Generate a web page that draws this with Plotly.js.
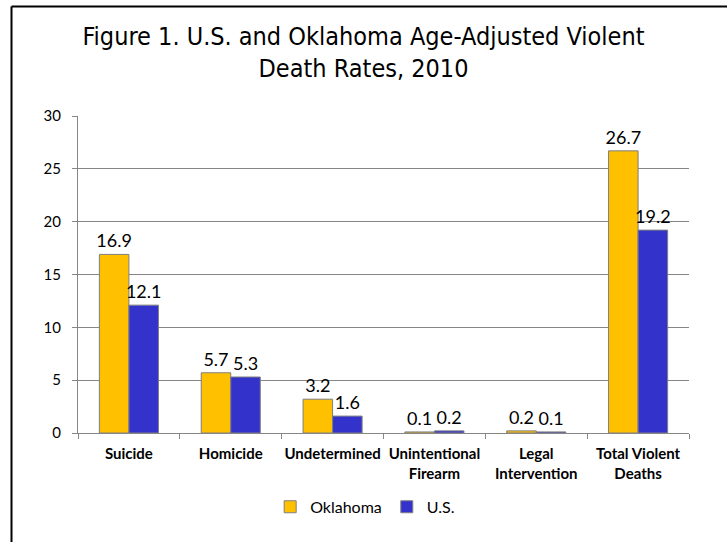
<!DOCTYPE html>
<html>
<head>
<meta charset="utf-8">
<script src="https://cdn.plot.ly/plotly-3.0.1.min.js"></script>
<style>
  html, body { margin: 0; padding: 0; background: #fff; }
  #chart { width: 727px; height: 542px; }
</style>
</head>
<body>
<div id="chart"></div>
<script>
const categories = ["Suicide", "Homicide", "Undetermined", "Unintentional<br>Firearm", "Legal<br>Intervention", "Total Violent<br>Deaths"];
const oklahoma = [16.9, 5.7, 3.2, 0.1, 0.2, 26.7];
const us = [12.1, 5.3, 1.6, 0.2, 0.1, 19.2];
const seriesNames = ["Oklahoma", "U.S."];
const yTicks = [0, 5, 10, 15, 20, 25, 30];

const labelFont = { family: "Lato, 'Open Sans', sans-serif", size: 18, color: "#000" };

const traces = [
  {
    type: "bar", name: seriesNames[0], x: categories, y: oklahoma,
    marker: { color: "#FFC000", line: { color: "#7F7F7F", width: 1 } },
    text: oklahoma.map(v => v.toFixed(1)), textposition: "outside",
    constraintext: "none",
    textfont: labelFont, cliponaxis: false, hoverinfo: "none"
  },
  {
    type: "bar", name: seriesNames[1], x: categories, y: us,
    marker: { color: "#3333CC", line: { color: "#7F7F7F", width: 1 } },
    text: us.map(v => v.toFixed(1)), textposition: "outside",
    constraintext: "none",
    textfont: labelFont, cliponaxis: false, hoverinfo: "none"
  }
];

const layout = {
  width: 727, height: 542,
  margin: { l: 78, r: 38, t: 116, b: 109, autoexpand: false },
  paper_bgcolor: "#fff", plot_bgcolor: "#fff",
  barmode: "group", bargap: 0.42, bargroupgap: 0,
  title: {
    text: "Figure 1. U.S. and Oklahoma Age-Adjusted Violent<br>Death Rates, 2010",
    font: { family: "'Liberation Sans Narrow', 'DejaVu Sans Condensed', 'Roboto Condensed', sans-serif", size: 25, color: "#000" },
    x: 0.5, xref: "container", xanchor: "center",
    y: 0.917, yref: "container", yanchor: "top"
  },
  xaxis: {
    type: "category", tickangle: 0, automargin: false,
    showgrid: false, showline: true, linecolor: "#868686", linewidth: 1,
    ticks: "outside", tickson: "boundaries", ticklen: 5, tickcolor: "#868686",
    ticklabelstandoff: 7,
    tickfont: { family: "Lato, 'Open Sans', sans-serif", size: 15, color: "#000", weight: "bold" },
    fixedrange: true
  },
  yaxis: {
    range: [0, 30], tickvals: yTicks, ticktext: yTicks.map(String), automargin: false,
    showgrid: true, gridcolor: "#868686", gridwidth: 1,
    showline: true, linecolor: "#868686", linewidth: 1,
    ticks: "outside", ticklen: 5, tickcolor: "#868686",
    ticklabelstandoff: 8,
    tickfont: { family: "Lato, 'Open Sans', sans-serif", size: 15, color: "#000" },
    zeroline: false, fixedrange: true
  },
  showlegend: true,
  legend: {
    orientation: "h", x: 0.47, xanchor: "center", y: -0.233, yanchor: "middle",
    font: { family: "Lato, 'Open Sans', sans-serif", size: 16, color: "#000" },
    itemwidth: 30, traceorder: "normal"
  },
  shapes: [
    { type: "line", xref: "paper", yref: "paper",
      x0: (11.5 - 78) / 611, x1: (11.5 - 78) / 611,
      y0: (433 - 545) / 317, y1: (433 - 6.5) / 317,
      line: { color: "#000", width: 2 } },
    { type: "line", xref: "paper", yref: "paper",
      x0: (11.5 - 78) / 611, x1: (730 - 78) / 611,
      y0: (433 - 6.5) / 317, y1: (433 - 6.5) / 317,
      line: { color: "#000", width: 2 } }
  ]
};

Plotly.newPlot("chart", traces, layout, { displayModeBar: false, staticPlot: true });
</script>
</body>
</html>
